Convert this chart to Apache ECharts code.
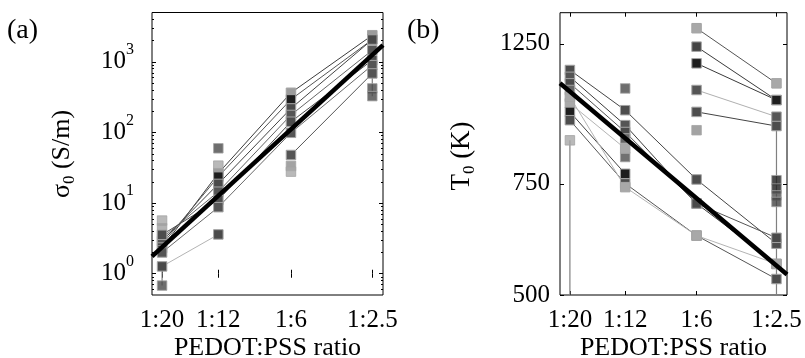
<!DOCTYPE html>
<html><head><meta charset="utf-8">
<script src="https://cdn.jsdelivr.net/npm/echarts@6/dist/echarts.min.js"></script>
<style>html,body{margin:0;padding:0;background:#fff}#c{width:805px;height:358px}</style>
</head><body><div id="c"></div>
<script>
// ---------- shared x axis ----------
const ratioLabels = ['1:20', '1:12', '1:6', '1:2.5'];
const pedotFraction = [1/21, 1/13, 1/7, 1/3.5];
const fractionRange = [0.0437, 0.313];

// ---------- panel (a) sigma_0 (S/m), log axis ----------
const sigmaRange = [0.5, 5000];
const sigmaMajorTicks = [1, 10, 100, 1000];
const sigmaLines = [
  [2.31, 26.5, 365, 2384],
  [2.6, 23.7, 294, 2070],
  [2.9, 18.7, 219, 2070],
  [3.2, 14.5, 177, 1463],
  [3.56, 11.1, 142, 1057],
  [2.0, 8.76, 99, 898],
  [1.27, 3.6, null, null],
  [null, null, 48, 686]
];
const sigmaLineColors = ['#3c3c3c', '#555555', '#444444', '#666666', '#4a4a4a', '#6a6a6a', '#b4b4b4', '#555555'];
const sigmaFillColors = ['#9c9c9c', '#1e1e1e', '#4a4a4a', '#555555', '#4d4d4d', '#555555', '#4a4a4a', '#555555'];
const sigmaLoosePoints = [[0, 5.66], [0, 4.4], [0, 0.68], [1, 59.7], [1, 33.9], [2, 33.6], [2, 27.9], [3, 421], [3, 327]];
const sigmaLooseColors = ['#a8a8a8', '#a0a0a0', '#4a4a4a', '#4a4a4a', '#a8a8a8', '#8c8c8c', '#a8a8a8', '#4a4a4a', '#4a4a4a'];
const sigmaWhiskers = [[0, 0.68, 1.27], [3, 327, 686]];
const sigmaFitEnds = [1.76, 1722];

// ---------- panel (b) T_0 (K), log axis ----------
const tempRange = [500, 1400];
const tempTicks = [500, 750, 1250];
const tempLines = [
  [1136, 981, 762, 603],
  [1108, 929, 698, 560],
  [1082, 906, 698, 616],
  [1056, 885, null, null],
  [1006, 853, null, null],
  [975, 778, null, null],
  [946, 751, 621, 530],
  [1030, 741, 621, 560],
  [null, null, 1323, 1082],
  [null, null, 1237, 1018],
  [null, null, 1164, 1018],
  [null, null, 1056, 958],
  [null, null, 975, 926]
];
const tempLineColors = ['#444444', '#3c3c3c', '#555555', '#4a4a4a', '#b4b4b4', '#444444', '#555555', '#b4b4b4', '#555555', '#3a3a3a', '#3a3a3a', '#b0b0b0', '#444444'];
const tempFillColors = ['#4d4d4d', '#555555', '#4a4a4a', '#666666', '#a8a8a8', '#1e1e1e', '#4d4d4d', '#a8a8a8', '#a8a8a8', '#444444', '#1e1e1e', '#555555', '#4d4d4d'];
const tempLoosePoints = [[0, 879], [1, 1062], [1, 827], [2, 912], [3, 760], [3, 737], [3, 719], [3, 702]];
const tempLooseColors = ['#a8a8a8', '#4a4a4a', '#4d4d4d', '#8c8c8c', '#1e1e1e', '#1e1e1e', '#4d4d4d', '#444444'];
const tempWhiskers = [[0, 500, 879], [3, 500, 926]];
const tempFitEnds = [1082, 539];

// ---------- build ----------
const FONT = 'Liberation Serif';
const lg = Math.log10;
const fracTicks = pedotFraction.map(lg);
function ratioLabel(v) {
  let best = 0;
  fracTicks.forEach((t, i) => { if (Math.abs(t - v) < Math.abs(fracTicks[best] - v)) best = i; });
  return ratioLabels[best];
}
const sigmaMinor = [];
for (let d = -1; d <= 3; d++) for (let k = 2; k <= 9; k++) {
  const v = k * Math.pow(10, d);
  if (v > sigmaRange[0] && v < sigmaRange[1]) sigmaMinor.push(lg(v));
}

const tickLine = {color: '#000', width: 1};
function xAxisDef(grid, pos, showLabel, withName) {
  return {
    type: 'value', gridIndex: grid, position: pos,
    min: lg(fractionRange[0]), max: lg(fractionRange[1]),
    splitLine: {show: false}, axisLine: {show: false},
    axisTick: {show: true, inside: true, length: 4, customValues: fracTicks, lineStyle: tickLine},
    axisLabel: {show: showLabel, customValues: fracTicks, formatter: ratioLabel, margin: 13,
      fontFamily: FONT, fontSize: 25, color: '#000'},
    name: withName ? 'PEDOT:PSS ratio' : '', nameLocation: 'middle', nameGap: 40, nameMoveOverlap: false,
    nameTextStyle: {fontFamily: FONT, fontSize: 26, color: '#000'}
  };
}
function yAxisDef(grid, pos, range, ticks, len, label) {
  return {
    type: 'value', gridIndex: grid, position: pos,
    min: lg(range[0]), max: lg(range[1]),
    splitLine: {show: false}, axisLine: {show: false},
    axisTick: {show: true, inside: true, length: len, customValues: ticks, lineStyle: tickLine},
    axisLabel: label ? Object.assign({customValues: ticks, color: '#000', fontFamily: FONT}, label) : {show: false}
  };
}

const series = [];
function whiskers(list, xi, yi) {
  list.forEach(w => series.push({
    type: 'line', xAxisIndex: xi, yAxisIndex: yi, silent: true, symbol: 'none',
    lineStyle: {color: '#808080', width: 1.2}, z: 1,
    data: [[lg(pedotFraction[w[0]]), lg(w[1])], [lg(pedotFraction[w[0]]), lg(w[2])]]
  }));
}
function samples(lines, lcol, fcol, xi, yi) {
  lines.forEach((vals, k) => series.push({
    type: 'line', xAxisIndex: xi, yAxisIndex: yi, silent: true,
    symbol: 'rect', symbolSize: 9.5, showSymbol: true, z: 2,
    lineStyle: {color: lcol[k], width: 1},
    itemStyle: {color: fcol[k], borderColor: '#a4a4a4', borderWidth: 1},
    data: vals.map((v, i) => v == null ? null : [lg(pedotFraction[i]), lg(v)]).filter(p => p)
  }));
}
function loose(pts, cols, xi, yi) {
  series.push({
    type: 'scatter', xAxisIndex: xi, yAxisIndex: yi, silent: true, symbol: 'rect', symbolSize: 9.5, z: 2,
    data: pts.map((p, i) => ({value: [lg(pedotFraction[p[0]]), lg(p[1])],
      itemStyle: {color: cols[i], borderColor: '#a4a4a4', borderWidth: 1}}))
  });
}
function fit(ends, xi, yi) {
  series.push({
    type: 'line', xAxisIndex: xi, yAxisIndex: yi, silent: true, symbol: 'none', z: 5,
    lineStyle: {color: '#000', width: 4.5},
    data: [[lg(fractionRange[0]), lg(ends[0])], [lg(fractionRange[1]), lg(ends[1])]]
  });
}
whiskers(sigmaWhiskers, 0, 0);
loose(sigmaLoosePoints, sigmaLooseColors, 0, 0);
samples(sigmaLines, sigmaLineColors, sigmaFillColors, 0, 0);
fit(sigmaFitEnds, 0, 0);
whiskers(tempWhiskers, 2, 4);
loose(tempLoosePoints, tempLooseColors, 2, 4);
samples(tempLines, tempLineColors, tempFillColors, 2, 4);
fit(tempFitEnds, 2, 4);

const sigmaLabel = {
  margin: 18,
  formatter: v => '{b|10}{s|' + Math.round(v) + '}',
  rich: {b: {fontFamily: FONT, fontSize: 25, lineHeight: 40, color: '#000'},
         s: {fontFamily: FONT, fontSize: 16, lineHeight: 16, verticalAlign: 'top', color: '#000'}}
};
const tempLabel = {margin: 10, fontSize: 25, formatter: v => String(Math.round(Math.pow(10, v)))};

const option = {
  animation: false,
  backgroundColor: '#fff',
  grid: [
    {left: 152, top: 12.5, width: 231, height: 282.5, show: true, borderColor: '#000', borderWidth: 1,
     backgroundColor: 'transparent', outerBoundsMode: 'none', containLabel: false},
    {left: 560, top: 12.7, width: 227, height: 282.3, show: true, borderColor: '#000', borderWidth: 1,
     backgroundColor: 'transparent', outerBoundsMode: 'none', containLabel: false}
  ],
  xAxis: [xAxisDef(0, 'bottom', true, true), xAxisDef(0, 'top', false, false),
          xAxisDef(1, 'bottom', true, true), xAxisDef(1, 'top', false, false)],
  yAxis: [
    yAxisDef(0, 'left', sigmaRange, sigmaMajorTicks.map(lg), 4, sigmaLabel),
    yAxisDef(0, 'right', sigmaRange, sigmaMajorTicks.map(lg), 4, null),
    yAxisDef(0, 'left', sigmaRange, sigmaMinor, 2, null),
    yAxisDef(0, 'right', sigmaRange, sigmaMinor, 2, null),
    yAxisDef(1, 'left', tempRange, tempTicks.map(lg), 4, tempLabel),
    yAxisDef(1, 'right', tempRange, tempTicks.map(lg), 4, null)
  ],
  graphic: [
    {type: 'text', left: 7, top: 17, style: {text: '(a)', font: '28px "Liberation Serif"', fill: '#000'}},
    {type: 'text', left: 407, top: 17, style: {text: '(b)', font: '28px "Liberation Serif"', fill: '#000'}},
    {type: 'text', x: 62, y: 154, rotation: Math.PI / 2, style: {
      text: '{a|σ}{s|0}{a| (S/m)}', align: 'center', verticalAlign: 'middle',
      rich: {a: {fontFamily: FONT, fontSize: 26, lineHeight: 32, fill: '#000'},
             s: {fontFamily: FONT, fontSize: 17, lineHeight: 17, verticalAlign: 'bottom', fill: '#000'}}}},
    {type: 'text', x: 462, y: 156, rotation: Math.PI / 2, style: {
      text: '{a|T}{s|0}{a| (K)}', align: 'center', verticalAlign: 'middle',
      rich: {a: {fontFamily: FONT, fontSize: 27, lineHeight: 32, fill: '#000'},
             s: {fontFamily: FONT, fontSize: 17, lineHeight: 17, verticalAlign: 'bottom', fill: '#000'}}}}
  ],
  series: series
};
const chart = echarts.init(document.getElementById('c'), null, {renderer: 'canvas'});
chart.setOption(option);
</script>
</body></html>
